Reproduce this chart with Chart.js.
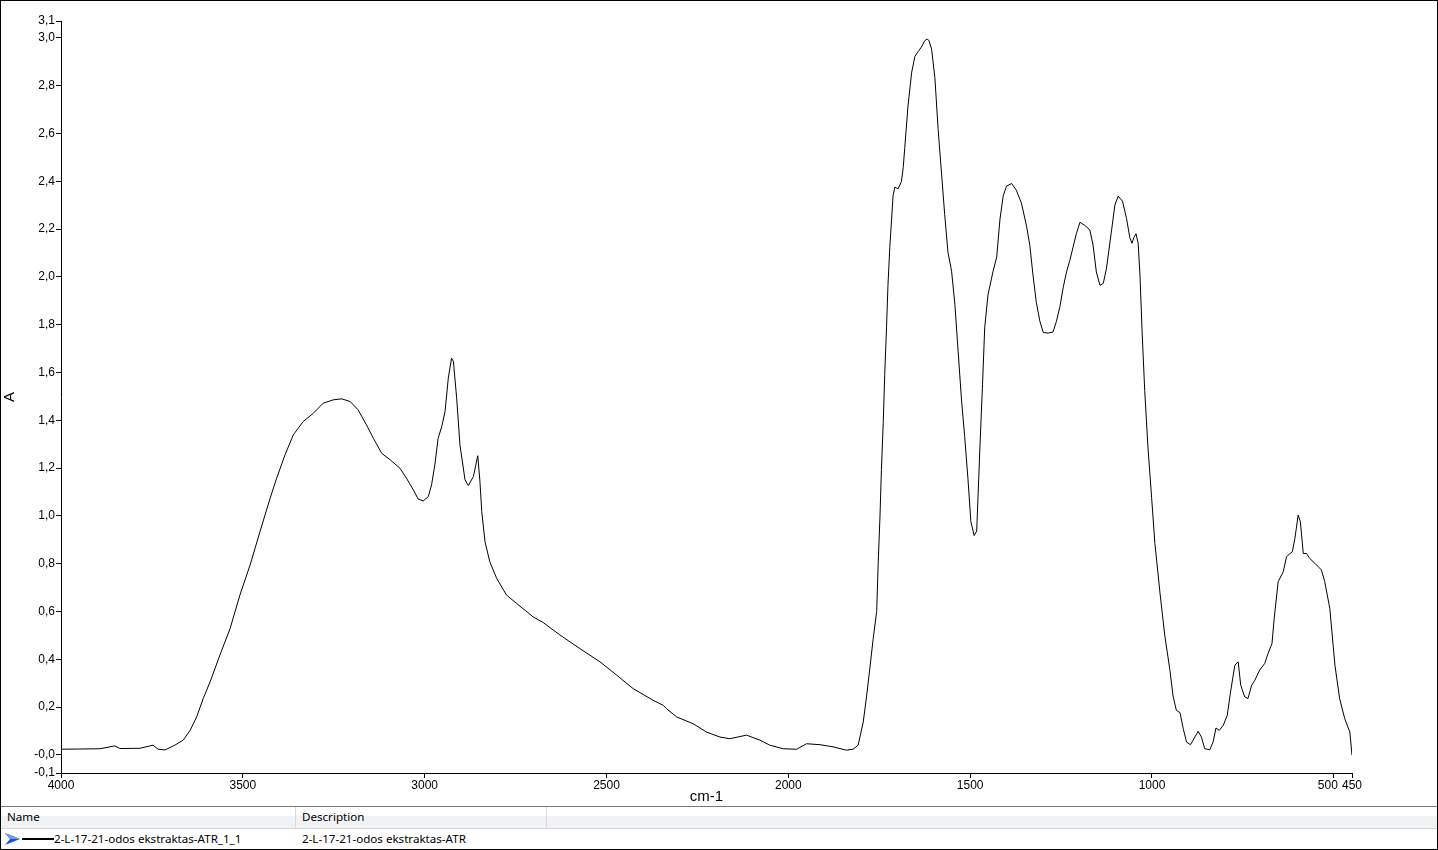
<!DOCTYPE html>
<html>
<head>
<meta charset="utf-8">
<title>2-L-17-21-odos ekstraktas-ATR</title>
<script src="https://cdn.jsdelivr.net/npm/chart.js@4.4.0/dist/chart.umd.min.js"></script>
<style>
    body { margin: 0; background: #fff; }
    #frame {
        position: relative; width: 1438px; height: 850px;
        box-sizing: border-box; border: 1px solid #000; overflow: hidden;
        font-family: "Noto Sans", sans-serif; font-size: 11.6px; color: #000;
    }
    #chartBox { position: absolute; left: 0; top: 0; width: 1436px; height: 805px; }
    #list { position: absolute; left: 0; top: 805px; width: 1436px; height: 43px; border-top: 1px solid #7a7a7a; }
    .hdr {
        position: relative; height: 21px; border-bottom: 1px solid #d5d5d5;
        background: linear-gradient(#ffffff 0, #ffffff 45%, #f1f2f4 45%, #f1f2f4 100%);
    }
    .hdr span, .row span { position: absolute; top: 2px; white-space: nowrap; }
    .sep { position: absolute; top: 0; width: 1px; height: 21px; background: #d9d9d9; }
    .row { position: relative; height: 20px; }
    .row svg { position: absolute; left: 4px; top: 3px; }
</style>
</head>
<body>
<div id="frame">
    <div id="chartBox"><canvas id="spectrum"></canvas></div>
    <div id="list">
        <div class="hdr">
            <span style="left:6px">Name</span>
            <div class="sep" style="left:294px"></div>
            <span style="left:301px">Description</span>
            <div class="sep" style="left:545px"></div>
        </div>
        <div class="row">
            <svg width="50" height="14">
                <polygon points="0,1 15,7 0,13 5,7" fill="#1f4fd6"/>
                <polygon points="0,1 15,7 5,7" fill="#6c9cf0"/>
                <line x1="17" y1="7" x2="49" y2="7" stroke="#000" stroke-width="2"/>
            </svg>
            <span style="left:53px">2-L-17-21-odos ekstraktas-ATR_1_1</span>
            <span style="left:301px">2-L-17-21-odos ekstraktas-ATR</span>
        </div>
    </div>
</div>

<script>
// ===============================
// DADOS DO ESPECTRO
// ===============================
const wavenumbers = [
    4000, 3948, 3893, 3852, 3838, 3783, 3747, 3733, 3714, 3687, 3664, 3645, 3627, 3609, 3590,
    3563, 3535, 3508, 3480, 3453, 3425, 3407, 3384, 3361, 3334, 3306, 3279, 3251, 3228, 3205,
    3183, 3160, 3141, 3118, 3095, 3068, 3050, 3031, 3018, 3004, 2990, 2981, 2972, 2963, 2953,
    2944, 2935, 2926, 2921, 2912, 2903, 2889, 2880, 2866, 2854, 2848, 2843, 2834, 2821, 2802,
    2775, 2747, 2702, 2674, 2628, 2573, 2518, 2472, 2427, 2372, 2344, 2335, 2307, 2262, 2225,
    2188, 2161, 2115, 2078, 2051, 2014, 1977, 1950, 1913, 1877, 1840, 1822, 1808, 1794, 1785,
    1776, 1767, 1757, 1753, 1748, 1744, 1739, 1735, 1730, 1726, 1721, 1716, 1712, 1707, 1698,
    1689, 1684, 1680, 1671, 1661, 1652, 1643, 1634, 1625, 1618, 1613, 1606, 1597, 1588, 1579,
    1570, 1561, 1551, 1542, 1533, 1524, 1515, 1506, 1498, 1489, 1482, 1478, 1473, 1466, 1460,
    1451, 1437, 1427, 1418, 1409, 1400, 1386, 1373, 1359, 1345, 1336, 1327, 1318, 1308, 1299,
    1286, 1272, 1263, 1253, 1244, 1235, 1226, 1217, 1208, 1198, 1185, 1171, 1162, 1153, 1143,
    1134, 1125, 1111, 1102, 1093, 1081, 1070, 1061, 1055, 1050, 1044, 1038, 1033, 1027, 1020,
    1011, 1001, 992, 978, 965, 951, 942, 933, 923, 914, 905, 894, 887, 873, 864,
    855, 841, 832, 824, 815, 804, 793, 784, 772, 763, 756, 745, 736, 726, 717,
    704, 690, 681, 670, 664, 653, 639, 630, 614, 607, 598, 592, 584, 575, 566,
    552, 534, 525, 511, 497, 484, 470, 456, 450
];

const absorbance = [
    0.024, 0.025, 0.026, 0.038, 0.027, 0.028, 0.041, 0.024, 0.021, 0.041, 0.062, 0.103, 0.159, 0.236, 0.306,
    0.418, 0.529, 0.669, 0.795, 0.934, 1.074, 1.158, 1.256, 1.340, 1.395, 1.430, 1.472, 1.486, 1.490, 1.479,
    1.444, 1.381, 1.325, 1.262, 1.235, 1.200, 1.158, 1.109, 1.071, 1.063, 1.081, 1.130, 1.214, 1.325, 1.374,
    1.437, 1.577, 1.660, 1.647, 1.493, 1.298, 1.151, 1.127, 1.165, 1.252, 1.144, 1.018, 0.892, 0.809, 0.739,
    0.669, 0.634, 0.578, 0.554, 0.502, 0.445, 0.390, 0.334, 0.278, 0.229, 0.208, 0.194, 0.159, 0.131, 0.096,
    0.075, 0.068, 0.083, 0.062, 0.041, 0.026, 0.024, 0.047, 0.043, 0.034, 0.020, 0.024, 0.041, 0.138, 0.243,
    0.360, 0.482, 0.601, 0.798, 0.996, 1.194, 1.391, 1.589, 1.787, 1.965, 2.123, 2.242, 2.340, 2.376, 2.369,
    2.399, 2.459, 2.537, 2.715, 2.854, 2.923, 2.943, 2.962, 2.988, 2.996, 2.988, 2.953, 2.834, 2.617, 2.439,
    2.261, 2.103, 2.024, 1.885, 1.688, 1.490, 1.332, 1.154, 0.976, 0.918, 0.937, 1.095, 1.293, 1.550, 1.787,
    1.925, 2.024, 2.083, 2.242, 2.340, 2.380, 2.391, 2.363, 2.309, 2.213, 2.133, 2.005, 1.893, 1.813, 1.768,
    1.765, 1.770, 1.813, 1.877, 1.957, 2.021, 2.069, 2.125, 2.181, 2.229, 2.216, 2.197, 2.133, 2.021, 1.965,
    1.973, 2.037, 2.197, 2.301, 2.338, 2.317, 2.245, 2.165, 2.141, 2.165, 2.181, 2.141, 2.005, 1.765, 1.525,
    1.285, 1.077, 0.885, 0.678, 0.502, 0.358, 0.246, 0.187, 0.177, 0.110, 0.054, 0.043, 0.062, 0.099, 0.075,
    0.026, 0.022, 0.054, 0.113, 0.103, 0.124, 0.166, 0.264, 0.376, 0.390, 0.292, 0.243, 0.236, 0.292, 0.313,
    0.355, 0.383, 0.424, 0.466, 0.571, 0.725, 0.767, 0.830, 0.851, 0.906, 1.004, 0.976, 0.843, 0.843, 0.822,
    0.802, 0.774, 0.725, 0.613, 0.376, 0.236, 0.152, 0.096, -0.001
];

const xTickValues = [4000, 3500, 3000, 2500, 2000, 1500, 1000, 500, 450];
const xTickLabels = ['4000', '3500', '3000', '2500', '2000', '1500', '1000', '500', '450'];
const yTickValues = [-0.0754, 0, 0.2, 0.4, 0.6, 0.8, 1.0, 1.2, 1.4, 1.6, 1.8, 2.0, 2.2, 2.4, 2.6, 2.8, 3.0, 3.071];
const yTickLabels = ['-0,1', '-0,0', '0,2', '0,4', '0,6', '0,8', '1,0', '1,2', '1,4', '1,6', '1,8', '2,0',
                     '2,2', '2,4', '2,6', '2,8', '3,0', '3,1'];

const seriesName = '2-L-17-21-odos ekstraktas-ATR_1_1';
const xTitle = 'cm-1';
const yTitle = 'A';

// ===============================
// GRÁFICO
// ===============================
const points = wavenumbers.map((w, i) => ({ x: w, y: absorbance[i] }));
const tickFont = { family: '"Liberation Sans", Arial, sans-serif', size: 12 };

// o rótulo "500" fica encostado no "450": empurra-o um pouco para a esquerda
function xLabel(v, i) {
    const label = xTickLabels[i];
    return i === xTickLabels.length - 2 ? label + '\u2002\u2002' : label;
}

new Chart(document.getElementById('spectrum').getContext('2d'), {
    type: 'line',
    data: {
        datasets: [{
            label: seriesName,
            data: points,
            borderColor: '#000',
            borderWidth: 1,
            pointRadius: 0,
            tension: 0,
            fill: false
        }]
    },
    options: {
        responsive: true,
        maintainAspectRatio: false,
        animation: false,
        layout: { padding: { left: 0, right: 85, top: 20, bottom: 0 } },
        plugins: { legend: { display: false }, tooltip: { enabled: false } },
        scales: {
            x: {
                type: 'linear',
                reverse: true,
                min: 450,
                max: 4000,
                afterBuildTicks: scale => { scale.ticks = xTickValues.map(v => ({ value: v })); },
                afterFit: scale => { scale.height = 33; },
                ticks: {
                    autoSkip: false,
                    maxRotation: 0,
                    padding: 0,
                    color: '#000',
                    font: tickFont,
                    callback: xLabel
                },
                grid: { drawOnChartArea: false, drawTicks: true, tickLength: 5, color: '#000' },
                border: { display: true, color: '#000', width: 1 },
                title: {
                    display: true, text: xTitle, color: '#000',
                    font: { family: '"Liberation Sans", Arial, sans-serif', size: 15 },
                    padding: { top: 0, bottom: 0 }
                }
            },
            y: {
                type: 'linear',
                min: yTickValues[0],
                max: yTickValues[yTickValues.length - 1],
                afterBuildTicks: scale => { scale.ticks = yTickValues.map(v => ({ value: v })); },
                afterFit: scale => { scale.width = 60; },
                ticks: {
                    autoSkip: false,
                    padding: 1,
                    color: '#000',
                    font: tickFont,
                    callback: (v, i) => yTickLabels[i]
                },
                grid: { drawOnChartArea: false, drawTicks: true, tickLength: 5, color: '#000' },
                border: { display: true, color: '#000', width: 1 },
                title: {
                    display: true, text: yTitle, color: '#000',
                    font: { family: '"Liberation Sans", Arial, sans-serif', size: 15 },
                    padding: { top: 0, bottom: 0 }
                }
            }
        }
    }
});
</script>
</body>
</html>
